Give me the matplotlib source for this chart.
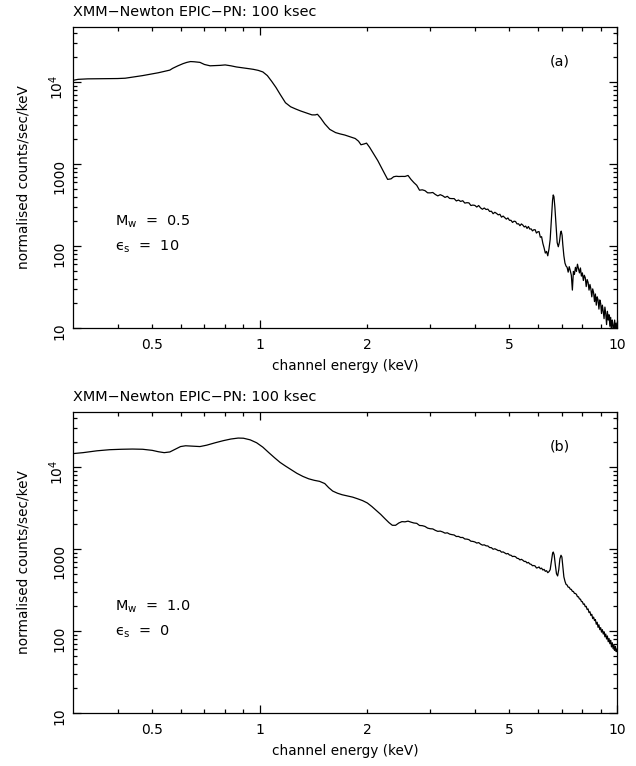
import matplotlib
matplotlib.use('Agg')
import matplotlib.pyplot as plt
from matplotlib.ticker import FixedLocator, FuncFormatter, NullFormatter

plt.rcParams['font.family'] = ['DejaVu Sans']
plt.rcParams['mathtext.fontset'] = 'dejavusans'

title = 'XMM\u2212Newton EPIC\u2212PN: 100 ksec'
panel_tags = ['(a)', '(b)']
panel_params = [('0.5', '10'), ('1.0', '0')]

# panel (a) spectrum: channel energy (keV) and normalised counts/sec/keV
energy_a = [0.30, 0.31, 0.33, 0.36, 0.40, 0.42, 0.44, 0.47, 0.49, 0.52, 0.54, 0.56, 0.57,
            0.59, 0.61, 0.625, 0.64, 0.655, 0.68, 0.70, 0.726, 0.75, 0.775, 0.80, 0.83,
            0.86, 0.90, 0.94, 0.96, 0.99, 1.02, 1.05, 1.08, 1.11, 1.14, 1.18, 1.22, 1.26,
            1.30, 1.35, 1.40, 1.43, 1.45, 1.48, 1.52, 1.57, 1.63, 1.68, 1.73, 1.79, 1.85,
            1.89, 1.92, 1.96, 1.99, 2.03, 2.09, 2.14, 2.18, 2.23, 2.28, 2.33, 2.37, 2.41,
            2.45,
            2.50, 2.55, 2.60, 2.65, 2.70, 2.75, 2.80, 2.85, 2.90, 2.95, 3.00, 3.05, 3.10,
            3.15, 3.20, 3.25, 3.30, 3.35, 3.40, 3.45, 3.50, 3.55, 3.60, 3.65, 3.70, 3.75,
            3.80, 3.85, 3.90, 3.95, 4.00, 4.05, 4.10, 4.15, 4.20, 4.25, 4.30, 4.35, 4.40,
            4.45, 4.50, 4.55, 4.60, 4.65, 4.70, 4.75, 4.80, 4.85, 4.90, 4.95, 5.00, 5.05,
            5.10, 5.15, 5.20, 5.25, 5.30, 5.35, 5.40, 5.45, 5.50, 5.55, 5.60, 5.65, 5.70,
            5.75, 5.80, 5.85, 5.90, 5.95, 6.00,
            6.05, 6.10, 6.15, 6.20, 6.25, 6.30, 6.35, 6.40, 6.45, 6.50, 6.55, 6.60, 6.63,
            6.66, 6.70, 6.75, 6.80, 6.85, 6.90, 6.95, 6.98, 7.02, 7.05, 7.10, 7.15, 7.20,
            7.25, 7.30, 7.35, 7.40, 7.45, 7.50, 7.55, 7.60, 7.65, 7.70, 7.75, 7.80, 7.85,
            7.90, 7.95, 8.00, 8.05, 8.10, 8.15, 8.20, 8.25, 8.30, 8.35, 8.40, 8.45, 8.50,
            8.55, 8.60, 8.65, 8.70, 8.75, 8.80, 8.85, 8.90, 8.95, 9.00, 9.05, 9.10, 9.15,
            9.20, 9.25, 9.30, 9.35, 9.40, 9.45, 9.50, 9.55, 9.60, 9.65, 9.70, 9.75, 9.80,
            9.85, 9.90, 9.95, 10.0]
counts_a = [10500, 10800, 10950, 11000, 11050, 11150, 11500, 12000, 12400, 13000, 13500, 14000, 14700,
            15800, 16800, 17400, 17800, 17700, 17400, 16400, 15800, 15900, 16000, 16200, 15800,
            15300, 14900, 14500, 14300, 13900, 13300, 12000, 10200, 8600, 7100, 5600, 5000, 4700,
            4450, 4200, 3980, 3980, 4050, 3650, 3100, 2650, 2420, 2330, 2260, 2150, 2050,
            1900, 1720, 1760, 1800, 1600, 1300, 1100, 940, 780, 650, 660, 700, 710,
            705,
            707, 706, 726, 650, 594, 551, 480, 485, 474, 446, 445, 450, 426,
            409, 423, 411, 392, 404, 381, 379, 379, 355, 364, 350, 357, 334,
            338, 336, 312, 316, 313, 299, 312, 292, 281, 291, 279, 282, 264,
            266, 248, 258, 250, 240, 244, 225, 232, 222, 213, 220, 206, 206,
            194, 201, 199, 186, 187, 177, 186, 180, 171, 175, 164, 173, 161,
            162, 153, 158, 158, 144, 149,
            150, 128, 130, 108, 95, 82, 86, 76, 92, 120, 210, 360, 420,
            400, 300, 180, 110, 98, 112, 145, 152, 135, 105, 76, 62, 57,
            55, 48, 56, 50, 44, 29, 49, 45, 55, 49, 60, 53, 47,
            54, 43, 47, 38, 44, 41, 32, 39, 36, 29, 34, 30, 24,
            30, 27, 21, 26, 19, 24, 22, 17, 22, 20, 15, 19, 16,
            13, 18, 15, 11, 16, 12.5, 14.5, 10.5, 13.5, 9, 12.5, 11, 8,
            12.5, 9.5, 11.5, 9]

# panel (b) spectrum
energy_b = [0.30, 0.32, 0.35, 0.38, 0.41, 0.44, 0.47, 0.50, 0.52, 0.54, 0.56, 0.58, 0.60,
            0.62, 0.65, 0.68, 0.71, 0.75, 0.79, 0.83, 0.87, 0.90, 0.94, 0.98, 1.02, 1.06,
            1.10, 1.14, 1.18, 1.22, 1.27, 1.32, 1.37, 1.42, 1.47, 1.52, 1.56, 1.60, 1.65,
            1.70, 1.76, 1.82, 1.88, 1.94, 2.00, 2.06, 2.12, 2.18, 2.24, 2.30, 2.35, 2.40,
            2.45,
            2.50, 2.55, 2.60, 2.65, 2.70, 2.75, 2.80, 2.85, 2.90, 2.95, 3.00, 3.05, 3.10,
            3.15, 3.20, 3.25, 3.30, 3.35, 3.40, 3.45, 3.50, 3.55, 3.60, 3.65, 3.70, 3.75,
            3.80, 3.85, 3.90, 3.95, 4.00, 4.05, 4.10, 4.15, 4.20, 4.25, 4.30, 4.35, 4.40,
            4.45, 4.50, 4.55, 4.60, 4.65, 4.70, 4.75, 4.80, 4.85, 4.90, 4.95, 5.00, 5.05,
            5.10, 5.15, 5.20, 5.25, 5.30, 5.35, 5.40, 5.45, 5.50, 5.55, 5.60, 5.65, 5.70,
            5.75, 5.80, 5.85, 5.90, 5.95, 6.00,
            6.05, 6.10, 6.15, 6.20, 6.25, 6.30, 6.35, 6.40, 6.45, 6.50, 6.55, 6.60, 6.63,
            6.67, 6.72, 6.77, 6.82, 6.87, 6.92, 6.97, 7.01, 7.05, 7.10, 7.15, 7.20, 7.25,
            7.30, 7.35, 7.40, 7.45, 7.50, 7.55, 7.60, 7.65, 7.70, 7.75, 7.80, 7.85, 7.90,
            7.95, 8.00, 8.05, 8.10, 8.15, 8.20, 8.25, 8.30, 8.35, 8.40, 8.45, 8.50, 8.55,
            8.60, 8.65, 8.70, 8.75, 8.80, 8.85, 8.90, 8.95, 9.00, 9.05, 9.10, 9.15, 9.20,
            9.25, 9.30, 9.35, 9.40, 9.45, 9.50, 9.55, 9.60, 9.65, 9.70, 9.75, 9.80, 9.85,
            9.90, 9.95, 10.0]
counts_b = [14600, 15000, 15800, 16300, 16500, 16600, 16500, 16000, 15400, 15000, 15300, 16500, 17800,
            18200, 18000, 17800, 18500, 19800, 21000, 22000, 22600, 22500, 21500, 19800, 17500, 15000,
            13000, 11400, 10300, 9400, 8400, 7700, 7200, 6900, 6700, 6300, 5600, 5100, 4800,
            4600, 4450, 4300, 4100, 3900, 3650, 3300, 2950, 2650, 2350, 2100, 1950, 1950,
            2080,
            2161, 2148, 2192, 2130, 2080, 2060, 1940, 1930, 1889, 1802, 1770, 1761, 1692,
            1645, 1656, 1618, 1564, 1578, 1522, 1500, 1485, 1423, 1427, 1383, 1385, 1327,
            1322, 1303, 1246, 1240, 1221, 1183, 1199, 1149, 1118, 1126, 1095, 1091, 1044,
            1040, 995, 1008, 985, 958, 960, 916, 923, 898, 873, 883, 846, 840,
            810, 816, 806, 772, 766, 737, 750, 730, 706, 707, 677, 687, 658,
            651, 626, 630, 621, 588, 593,
            605, 575, 585, 555, 565, 535, 545, 515, 530, 560, 700, 880, 920,
            850, 640, 500, 470, 560, 760, 840, 800, 620, 458, 405, 371, 364,
            343, 342, 324, 322, 305, 304, 288, 287, 280, 262, 262, 246, 245,
            229, 228, 212, 214, 198, 200, 183, 186, 168, 172, 155, 160, 142,
            148, 134, 138, 121, 128, 111, 119, 104, 110, 97, 104, 92, 98,
            85, 92, 80, 87, 74, 81, 70, 77, 64, 72, 61, 68, 58,
            65, 56, 60]

x_labels = {0.5: '0.5', 2.0: '2', 5.0: '5'}

fig = plt.figure(figsize=(6.36, 7.66), dpi=100)
axes_a = fig.add_axes([73 / 636, 1 - 328 / 766, 544 / 636, 301 / 766])
axes_b = fig.add_axes([73 / 636, 1 - 713 / 766, 544 / 636, 301 / 766])

for ax, en, ct, tag, (mw, eps) in zip([axes_a, axes_b], [energy_a, energy_b],
                                      [counts_a, counts_b], panel_tags, panel_params):
    ax.plot(en, ct, color='black', lw=0.9)
    ax.set_xscale('log')
    ax.set_yscale('log')
    ax.set_xlim(0.3, 10)
    ax.set_ylim(10, 4.7e4)

    ax.xaxis.set_major_locator(FixedLocator([1, 10]))
    ax.xaxis.set_major_formatter(FuncFormatter(lambda v, p: '%g' % v))
    ax.xaxis.set_minor_locator(FixedLocator([0.4, 0.5, 0.6, 0.7, 0.8, 0.9,
                                             2, 3, 4, 5, 6, 7, 8, 9]))
    ax.xaxis.set_minor_formatter(FuncFormatter(lambda v, p: x_labels.get(round(v, 2), '')))

    ax.yaxis.set_major_locator(FixedLocator([10, 100, 1000, 1e4]))
    ax.yaxis.set_major_formatter(FuncFormatter(
        lambda v, p: {10: '10', 100: '100', 1000: '1000'}.get(int(round(v)), r'$10^4$')))
    ax.yaxis.set_minor_locator(FixedLocator([m * d for d in [10, 100, 1000, 10000]
                                             for m in range(2, 10)]))
    ax.yaxis.set_minor_formatter(NullFormatter())

    ax.tick_params(which='both', direction='in', top=True, right=True,
                   width=0.9, labelsize=10, colors='black')
    ax.tick_params(which='major', length=5.8)
    ax.tick_params(which='minor', length=3.0)
    ax.tick_params(axis='x', which='both', pad=7)
    ax.tick_params(axis='y', which='both', labelrotation=90, pad=5)
    for sp in ax.spines.values():
        sp.set_linewidth(0.9)

    ax.set_xlabel('channel energy (keV)', fontsize=9.8, labelpad=5)
    ax.set_ylabel('normalised counts/sec/keV', fontsize=9.8, labelpad=12)

    ax.text(0, 1.025, title, transform=ax.transAxes, fontsize=10.4,
            ha='left', va='bottom')
    ax.text(0.895, 0.884, tag, transform=ax.transAxes, fontsize=10.4,
            ha='center', va='center')
    ax.text(0.077, 0.352, r'M$_\mathrm{w}$  =  ' + mw, transform=ax.transAxes,
            fontsize=10.4, ha='left', va='center')
    ax.text(0.077, 0.269, '\u03f5$_\\mathrm{s}$  =  ' + eps, transform=ax.transAxes,
            fontsize=10.4, ha='left', va='center')

fig.savefig('out.png', dpi=100, facecolor='white')
